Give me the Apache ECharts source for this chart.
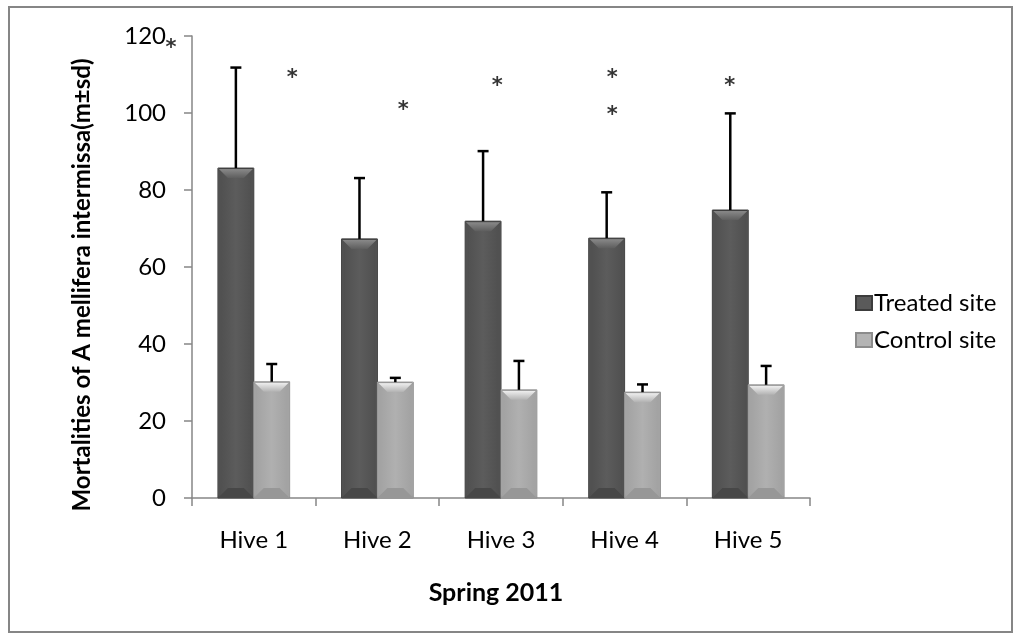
<!DOCTYPE html>
<html>
<head>
<meta charset="utf-8">
<script src="https://cdn.jsdelivr.net/npm/echarts@6/dist/echarts.min.js"></script>
<style>
  html, body { margin: 0; padding: 0; background: #fff; }
  #chart { width: 1022px; height: 640px; }
</style>
</head>
<body>
<div id="chart"></div>
<script>
// Hive mortality, spring 2011: mean with upper standard deviation
const categories = ['Hive 1', 'Hive 2', 'Hive 3', 'Hive 4', 'Hive 5'];
const treatedMean = [85.7, 67.3, 71.9, 67.5, 74.8];
const treatedSd = [26.1, 15.8, 18.2, 11.9, 25.1];
const controlMean = [30.2, 30.1, 28.1, 27.5, 29.4];
const controlSd = [4.6, 1.1, 7.5, 2.0, 4.9];
const yTicks = [0, 20, 40, 60, 80, 100, 120];

// significance asterisks (x in category units from the left edge of the plot)
const starX = [-0.17, 0.81, 1.71, 2.47, 3.40, 3.40, 4.35];
const starY = [118.4, 110.4, 102.1, 108.3, 110.6, 101.0, 108.3];

const yTitle = 'Mortalities of A mellifera intermissa(m\u00b1sd)';
const FONT = 'Lato, "Open Sans", sans-serif';

const palettes = {
  treated: {
    body: ['#4e4e4e', '#5c5c5c', '#4e4e4e'],
    topBevel: ['#8e8e8e', '#5e5e5e'],
    bottomBevel: '#474747',
    side: '#515151',
    edge: '#3c3c3c'
  },
  control: {
    body: ['#a0a0a0', '#b0b0b0', '#a0a0a0'],
    topBevel: ['#f6f6f6', '#b2b2b2'],
    bottomBevel: '#979797',
    side: '#a3a3a3',
    edge: '#8c8c8c'
  }
};

function hGrad(c) {
  return new echarts.graphic.LinearGradient(0, 0, 1, 0, [
    { offset: 0, color: c[0] }, { offset: 0.5, color: c[1] }, { offset: 1, color: c[2] }
  ]);
}

function makeRenderer(pal, side) {
  return function (params, api) {
    const cat = api.value(0);
    const mean = api.value(1);
    const sd = api.value(2);
    const base = api.coord([cat, 0]);
    const top = api.coord([cat, mean]);
    const errTop = api.coord([cat, mean + sd]);
    const band = api.size([1, 0])[0];
    const w = band * 0.29;
    const x0 = side === 'left' ? base[0] - w : base[0];
    const x1 = x0 + w;
    const y0 = top[1];
    const y1 = base[1];
    const b = Math.min(10, (y1 - y0) / 2);
    const s = 3;
    const children = [
      { type: 'rect', shape: { x: x0, y: y0, width: w, height: y1 - y0 },
        style: { fill: hGrad(pal.body), stroke: pal.edge, lineWidth: 1 } },
      { type: 'polygon', shape: { points: [[x0, y0], [x0 + s, y0 + b], [x0 + s, y1 - b], [x0, y1]] },
        style: { fill: pal.side } },
      { type: 'polygon', shape: { points: [[x1, y0], [x1 - s, y0 + b], [x1 - s, y1 - b], [x1, y1]] },
        style: { fill: pal.side } },
      { type: 'polygon', shape: { points: [[x0, y1], [x1, y1], [x1 - b, y1 - b], [x0 + b, y1 - b]] },
        style: { fill: pal.bottomBevel } },
      { type: 'polygon', shape: { points: [[x0, y0], [x1, y0], [x1 - b, y0 + b], [x0 + b, y0 + b]] },
        style: { fill: new echarts.graphic.LinearGradient(0, 0, 0, 1, [
          { offset: 0, color: pal.topBevel[0] }, { offset: 1, color: pal.topBevel[1] }
        ]) } },
      { type: 'line', shape: { x1: x0 + 0.5, y1: y0 + 0.5, x2: x1 - 0.5, y2: y0 + 0.5 },
        style: { stroke: pal.edge, lineWidth: 1 } }
    ];
    const cx = x0 + w / 2;
    children.push(
      { type: 'line', shape: { x1: cx, y1: y0, x2: cx, y2: errTop[1] },
        style: { stroke: '#000', lineWidth: 2.5 } },
      { type: 'line', shape: { x1: cx - 5.5, y1: errTop[1], x2: cx + 5.5, y2: errTop[1] },
        style: { stroke: '#000', lineWidth: 2.5 } }
    );
    return { type: 'group', children: children };
  };
}

const treatedData = categories.map((c, i) => [i, treatedMean[i], treatedSd[i]]);
const controlData = categories.map((c, i) => [i, controlMean[i], controlSd[i]]);
const starData = starX.map((x, i) => [x, starY[i]]);

const chart = echarts.init(document.getElementById('chart'), null, { renderer: 'canvas' });

chart.setOption({
  backgroundColor: '#ffffff',
  animation: false,
  textStyle: { fontFamily: FONT },
  grid: { left: 192, right: 212, top: 36, bottom: 142, containLabel: false },
  legend: {
    orient: 'vertical',
    left: 850,
    top: 286,
    itemWidth: 16,
    itemHeight: 14,
    itemGap: 13,
    icon: 'rect',
    textStyle: { fontFamily: FONT, fontSize: 24, color: '#000', padding: [0, 0, 0, -3] },
    data: ['Treated site', 'Control site']
  },
  xAxis: [
    {
      type: 'category',
      data: categories,
      name: 'Spring 2011',
      nameLocation: 'middle',
      nameGap: 82,
      nameTextStyle: { fontFamily: FONT, fontSize: 25, fontWeight: 'bold', color: '#000', padding: [0, 10, 0, 0] },
      axisLine: { lineStyle: { color: '#868686', width: 1.5 } },
      axisTick: { show: true, length: 8, lineStyle: { color: '#868686', width: 1.5 } },
      axisLabel: { fontFamily: FONT, fontSize: 24, color: '#000', margin: 30 },
      splitLine: { show: false }
    },
    {
      type: 'value',
      min: 0,
      max: 5,
      show: false
    }
  ],
  yAxis: {
    type: 'value',
    min: yTicks[0],
    max: yTicks[yTicks.length - 1],
    interval: 20,
    axisLine: { show: true, lineStyle: { color: '#868686', width: 1.5 } },
    axisTick: { show: true, length: 8, lineStyle: { color: '#868686', width: 1.5 } },
    axisLabel: { fontFamily: FONT, fontSize: 24, color: '#000', margin: 26 },
    splitLine: { show: false }
  },
  series: [
    {
      name: 'Treated site',
      type: 'custom',
      xAxisIndex: 0,
      renderItem: makeRenderer(palettes.treated, 'left'),
      itemStyle: { color: '#5a5a5a', borderColor: '#3c3c3c', borderWidth: 1 },
      encode: { x: 0, y: [1, 2] },
      data: treatedData,
      z: 2
    },
    {
      name: 'Control site',
      type: 'custom',
      xAxisIndex: 0,
      renderItem: makeRenderer(palettes.control, 'right'),
      itemStyle: { color: '#b4b4b4', borderColor: '#8c8c8c', borderWidth: 1 },
      encode: { x: 0, y: [1, 2] },
      data: controlData,
      z: 2
    },
    {
      name: 'stars',
      type: 'scatter',
      xAxisIndex: 1,
      yAxisIndex: 0,
      clip: false,
      symbol: 'circle',
      symbolSize: 2,
      itemStyle: { color: 'rgba(0,0,0,0)' },
      label: {
        show: true,
        position: 'inside',
        formatter: '*',
        fontFamily: '"DejaVu Sans", sans-serif',
        fontWeight: 'bold',
        fontSize: 21,
        color: '#000',
        offset: [0, 6]
      },
      data: starData,
      z: 3
    }
  ],
  graphic: [
    {
      type: 'rect',
      shape: { x: 9, y: 7, width: 1003, height: 625 },
      style: { fill: null, stroke: '#868686', lineWidth: 2 },
      silent: true,
      z: -1
    },
    {
      type: 'text',
      x: 82,
      y: 285,
      rotation: Math.PI / 2,
      style: {
        text: yTitle,
        fontFamily: FONT,
        fontSize: 24,
        fontWeight: 'bold',
        fill: '#000',
        align: 'center',
        verticalAlign: 'middle'
      },
      silent: true
    }
  ]
});
</script>
</body>
</html>
